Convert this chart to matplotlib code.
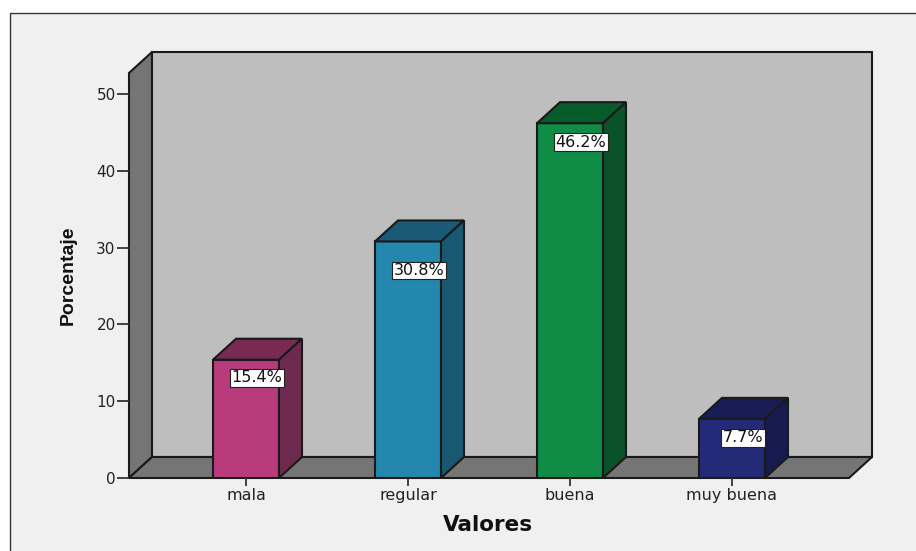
import matplotlib
matplotlib.use('Agg')
import matplotlib.pyplot as plt
from matplotlib.patches import Polygon, Rectangle

categorias = ['mala', 'regular', 'buena', 'muy buena']
porcentajes = [15.4, 30.8, 46.2, 7.7]
etiquetas = ['15.4%', '30.8%', '46.2%', '7.7%']
y_ticks = [0, 10, 20, 30, 40, 50]

colores = ['#B83B7B', '#2488AE', '#0F8C45', '#252A78']
colores_top = ['#782A52', '#1A5A76', '#075A2A', '#1A1C55']
colores_lado = ['#6E2A4E', '#185870', '#0A5229', '#181B4E']

W, H = 916, 551
plt.rcParams['font.family'] = ['DejaVu Sans']

fig = plt.figure(figsize=(W / 100, H / 100), dpi=100, facecolor='white')

# marco gris del grafico (solo se ve arriba y a la izquierda)
fig.add_artist(Rectangle((10 / W, -0.02), 0.99, 1 - 13 / H + 0.02, transform=fig.transFigure,
                         facecolor='#F0F0F0', edgecolor='#333333', linewidth=1, zorder=-1))

# ejes: de la esquina frontal del suelo hasta arriba de la pared
ax = fig.add_axes([129 / W, (H - 478) / H, 720 / W, 405 / H])
px_x = 162.0
px_y = 7.68
ax.set_xlim((129 - 246) / px_x, (849 - 246) / px_x)
ax.set_ylim(0, 405 / px_y)
ax.patch.set_visible(False)
for s in ax.spines.values():
    s.set_visible(False)

dx = 23 / px_x
dy = 21 / px_y
x0, x1 = ax.get_xlim()
y1 = ax.get_ylim()[1]
borde = '#1A1A1A'

# pared izquierda, fondo y suelo
ax.add_patch(Polygon([(x0, 0), (x0 + dx, dy), (x0 + dx, y1 + dy), (x0, y1)],
                     facecolor='#757575', edgecolor=borde, lw=1.5, clip_on=False))
ax.add_patch(Polygon([(x0 + dx, dy), (x1 + dx, dy), (x1 + dx, y1 + dy), (x0 + dx, y1 + dy)],
                     facecolor='#BEBEBE', edgecolor=borde, lw=1.5, clip_on=False))
ax.add_patch(Polygon([(x0, 0), (x1, 0), (x1 + dx, dy), (x0 + dx, dy)],
                     facecolor='#757575', edgecolor=borde, lw=1.5, clip_on=False))

# barras
ancho = 66 / px_x
bajada = [18, 29, 19, 19]  # px bajo la cara superior
for i, v in enumerate(porcentajes):
    a = i - ancho / 2
    b = i + ancho / 2
    ax.bar(i, v, width=ancho, color=colores[i], edgecolor=borde, linewidth=1.5, zorder=3)
    ax.add_patch(Polygon([(a, v), (b, v), (b + dx, v + dy), (a + dx, v + dy)],
                         facecolor=colores_top[i], edgecolor=borde, lw=1.5, zorder=3, clip_on=False))
    ax.add_patch(Polygon([(b, 0), (b + dx, dy), (b + dx, v + dy), (b, v)],
                         facecolor=colores_lado[i], edgecolor=borde, lw=1.5, zorder=3, clip_on=False))
    ax.text(i + 11 / px_x, v - bajada[i] / px_y, etiquetas[i], ha='center', va='center', fontsize=11.5,
            color='#111111', zorder=5,
            bbox=dict(boxstyle='square,pad=0.08', facecolor='white', edgecolor='#222222', linewidth=0.8))

ax.set_xticks(range(len(categorias)))
ax.set_xticklabels(categorias, fontsize=11.5, color='#222222')
ax.set_yticks(y_ticks)
ax.tick_params(axis='y', labelsize=11, labelcolor='#222222', length=8.6, width=1.3, color='#333333', pad=1)
ax.tick_params(axis='x', length=6, width=1.3, color='#333333', pad=1)

fig.text(68 / W, 1 - 275 / H, 'Porcentaje', rotation=90, ha='center', va='center',
         fontsize=14, fontweight='bold', color='#111111', family='Liberation Sans')
fig.text(488 / W, 1 - 525 / H, 'Valores', ha='center', va='center',
         fontsize=15.5, fontweight='bold', color='#111111')

fig.savefig('out.png', dpi=100)
